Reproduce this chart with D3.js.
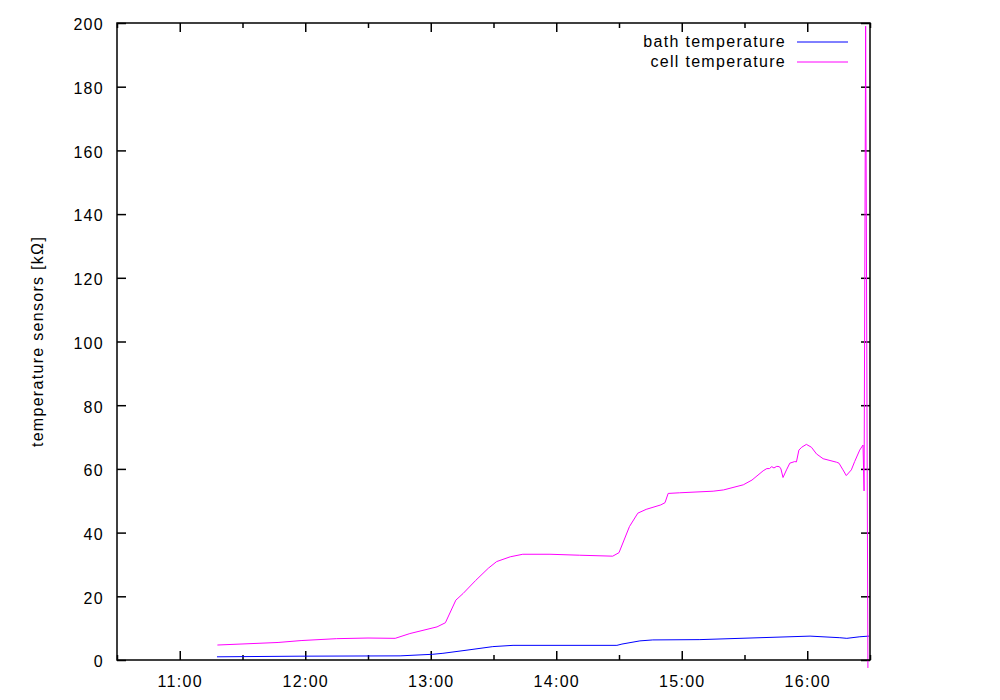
<!DOCTYPE html>
<html>
<head>
<meta charset="utf-8">
<script src="https://cdn.jsdelivr.net/npm/d3@7"></script>
<style>
  body { margin: 0; background: #fff; }
  svg { display: block; font-family: "Liberation Sans", Arial, Helvetica, sans-serif; }
</style>
</head>
<body>
<svg id="chart" width="1000" height="700"></svg>
<script>
// ---- data (time of day, value in kΩ) ----
const bathTimes  = ["11:17:48","11:57:30","12:45:20","13:01:00","13:05:50","13:17:20","13:29:40","13:39:20","14:29:00","14:31:25","14:40:00","14:46:10","15:08:40","15:37:25","16:01:20","16:15:35","16:18:55","16:25:10","16:29:30"];
const bathValues = [1.0, 1.2, 1.3, 1.8, 2.1, 3.1, 4.2, 4.6, 4.6, 5.0, 6.0, 6.3, 6.4, 7.0, 7.5, 7.0, 6.8, 7.3, 7.5];

const cellTimes  = ["11:18:00","11:47:00","11:58:00","12:15:00","12:30:00","12:43:00","12:50:00","13:03:00","13:07:00","13:12:00","13:15:30","13:21:30","13:27:30","13:31:30","13:38:00","13:44:00","13:57:00","14:11:00","14:27:00","14:30:00","14:35:00","14:39:00","14:43:00","14:50:00","14:52:00","14:53:30","14:59:00","15:15:00","15:20:00","15:29:25","15:33:35","15:38:55","15:40:40","15:41:55","15:43:00","15:44:05","15:45:25","15:46:40","15:47:25","15:48:25","15:50:05","15:51:40","15:54:00","15:54:50","15:56:00","15:57:20","15:59:35","16:02:00","16:04:25","16:07:35","16:14:00","16:15:10","16:17:05","16:18:40","16:21:05","16:22:40","16:25:05","16:26:40","16:27:10","16:27:55","16:29:00"];
const cellValues = [4.7, 5.5, 6.1, 6.7, 6.9, 6.8, 8.3, 10.4, 11.7, 18.8, 20.9, 25.0, 28.8, 30.9, 32.4, 33.2, 33.2, 32.9, 32.6, 33.7, 41.9, 46.1, 47.3, 48.7, 49.4, 52.3, 52.5, 53.0, 53.4, 55.0, 56.5, 59.4, 60.1, 60.1, 60.7, 60.3, 60.8, 60.7, 60.0, 57.3, 59.7, 61.8, 62.3, 62.2, 65.9, 66.8, 67.7, 66.8, 64.7, 63.2, 62.1, 61.8, 59.7, 57.9, 59.7, 62.3, 65.9, 67.5, 53.1, 199.0, -2.5];

const xDomain = ["10:30:00", "16:30:00"];
const yDomain = [0, 200];
const yTicks = [0, 20, 40, 60, 80, 100, 120, 140, 160, 180, 200];
const seriesNames = ["bath temperature", "cell temperature"];
const seriesColors = ["#0000ff", "#ff00ff"];
const yLabel = "temperature sensors [kΩ]";

// ---- layout ----
const FS = 16, LS = 1.3;
const parse = d3.timeParse("%H:%M:%S");
const svg = d3.select("#chart");
const L = 117, R = 870, T = 23, B = 660;

const x = d3.scaleTime().domain(xDomain.map(parse)).range([L, R]);
const y = d3.scaleLinear().domain(yDomain).range([B, T]);

const endT = d3.timeMinute.offset(x.domain()[1], 1);
const majorX = d3.timeMinute.every(30).range(x.domain()[0], endT).filter(d => d.getMinutes() === 0);
const minorX = d3.timeMinute.every(30).range(x.domain()[0], endT).filter(d => d.getMinutes() === 30);

const g = svg.append("g");
const styleText = s => s.attr("font-size", FS).attr("fill", "#000")
  .attr("letter-spacing", LS).attr("font-family", "Liberation Sans, Arial, sans-serif");

// bottom axis
const xb = g.append("g").attr("transform", `translate(0,${B})`)
  .call(d3.axisBottom(x).tickValues(majorX).tickFormat(d3.timeFormat("%H:%M")).tickSizeInner(-9).tickSizeOuter(0).tickPadding(16));
xb.selectAll("text").call(styleText);
g.append("g").attr("transform", `translate(0,${B})`)
  .call(d3.axisBottom(x).tickValues(minorX).tickFormat("").tickSizeInner(-5).tickSizeOuter(0));
// top mirror
g.append("g").attr("transform", `translate(0,${T})`)
  .call(d3.axisTop(x).tickValues(majorX).tickFormat("").tickSizeInner(-9).tickSizeOuter(0));
g.append("g").attr("transform", `translate(0,${T})`)
  .call(d3.axisTop(x).tickValues(minorX).tickFormat("").tickSizeInner(-5).tickSizeOuter(0));

// left axis
const yl = g.append("g").attr("transform", `translate(${L},0)`)
  .call(d3.axisLeft(y).tickValues(yTicks).tickSizeInner(-9).tickSizeOuter(0).tickPadding(13));
yl.selectAll("text").call(styleText).attr("dy", "0.43em");
// right mirror
g.append("g").attr("transform", `translate(${R},0)`)
  .call(d3.axisRight(y).tickValues(yTicks).tickFormat("").tickSizeInner(-9).tickSizeOuter(0));

g.selectAll(".tick line").attr("stroke", "#000").attr("stroke-width", 1.5);
g.selectAll(".domain").remove();

// y label
svg.append("text")
  .attr("transform", `translate(43,${(T + B) / 2}) rotate(-90)`)
  .attr("text-anchor", "middle")
  .call(styleText)
  .text(yLabel);

// lines
const line = d3.line().x(d => x(d[0])).y(d => y(d[1]));
const bathData = bathTimes.map((t, i) => [parse(t), bathValues[i]]);
const cellData = cellTimes.map((t, i) => [parse(t), cellValues[i]]);

svg.append("path").datum(bathData).attr("d", line)
  .attr("fill", "none").attr("stroke", seriesColors[0]).attr("stroke-width", 1);
svg.append("path").datum(cellData).attr("d", line)
  .attr("fill", "none").attr("stroke", seriesColors[1]).attr("stroke-width", 1);

// border
svg.append("rect").attr("x", L).attr("y", T).attr("width", R - L).attr("height", B - T)
  .attr("fill", "none").attr("stroke", "#000").attr("stroke-width", 1.5);

// legend
const leg = svg.append("g");
seriesNames.forEach((name, i) => {
  const yy = 42 + i * 20;
  leg.append("text").attr("x", 786).attr("y", yy + 5)
    .attr("text-anchor", "end").call(styleText).text(name);
  leg.append("line").attr("x1", 797).attr("x2", 848).attr("y1", yy).attr("y2", yy)
    .attr("stroke", seriesColors[i]).attr("stroke-width", 1);
});
</script>
</body>
</html>
